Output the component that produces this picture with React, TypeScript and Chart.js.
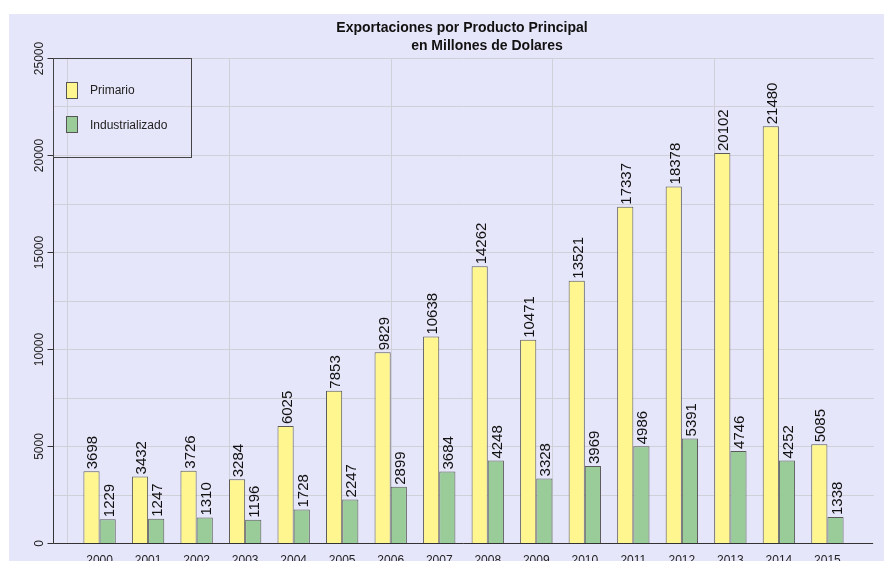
import React, { useEffect, useRef } from "react";
import { Chart, registerables } from "chart.js";

Chart.register(...registerables);

const years = ["2000","2001","2002","2003","2004","2005","2006","2007","2008","2009","2010","2011","2012","2013","2014","2015"];
const primario = [3698,3432,3726,3284,6025,7853,9829,10638,14262,10471,13521,17337,18378,20102,21480,5085];
const industrializado = [1229,1247,1310,1196,1728,2247,2899,3684,4248,3328,3969,4986,5391,4746,4252,1338];
const seriesNames = ["Primario", "Industrializado"];
const yTickLabels = [0, 5000, 10000, 15000, 20000, 25000];
const yGridValues = [0,2500,5000,7500,10000,12500,15000,17500,20000,22500,25000];
const xGridPositions = [-2/3, 8/3, 6, 28/3, 38/3];
const titleLines = ["Exportaciones por Producto Principal", "en Millones de Dolares"];

const YELLOW = "#FFF68F";
const GREEN = "#99CC99";
const BG = "#E6E6FA";
const FONT = "'Liberation Sans', Arial, sans-serif";

const drawPlugin = {
  id: "rDraw",
  beforeDraw(chart: any) {
    const ctx = chart.ctx;
    const { left, right, top, bottom } = chart.chartArea;
    const xs = chart.scales.x;
    const ys = chart.scales.y;
    ctx.save();
    ctx.fillStyle = BG;
    ctx.fillRect(0, 0, chart.width, chart.height);
    ctx.strokeStyle = "#D0D0D8";
    ctx.lineWidth = 1;
    yGridValues.forEach((v) => {
      const y = Math.round(ys.getPixelForValue(v)) + 0.5;
      ctx.beginPath();
      ctx.moveTo(left, y);
      ctx.lineTo(right, y);
      ctx.stroke();
    });
    xGridPositions.forEach((p) => {
      const x = Math.round(xs.getPixelForValue(p)) + 0.5;
      ctx.beginPath();
      ctx.moveTo(x, top);
      ctx.lineTo(x, bottom);
      ctx.stroke();
    });
    ctx.restore();
  },
  afterDraw(chart: any) {
    const ctx = chart.ctx;
    const { left, right } = chart.chartArea;
    const xs = chart.scales.x;
    const ys = chart.scales.y;
    ctx.save();
    // axes
    ctx.strokeStyle = "#333";
    ctx.lineWidth = 1;
    const y0 = Math.round(ys.getPixelForValue(0)) + 0.5;
    const yTop = Math.round(ys.getPixelForValue(25000)) + 0.5;
    const ax = Math.round(left) + 0.5;
    ctx.beginPath();
    ctx.moveTo(ax, yTop);
    ctx.lineTo(ax, y0);
    ctx.moveTo(ax, y0);
    ctx.lineTo(right - 1, y0);
    ctx.stroke();
    // y ticks and labels
    ctx.fillStyle = "#222";
    ctx.font = `12px ${FONT}`;
    yTickLabels.forEach((v) => {
      const y = Math.round(ys.getPixelForValue(v)) + 0.5;
      ctx.beginPath();
      ctx.moveTo(ax - 6, y);
      ctx.lineTo(ax, y);
      ctx.stroke();
      ctx.save();
      ctx.translate(34, y);
      ctx.rotate(-Math.PI / 2);
      ctx.textAlign = "center";
      ctx.textBaseline = "alphabetic";
      ctx.fillText(String(v), 0, 0);
      ctx.restore();
    });
    // x labels
    ctx.textAlign = "center";
    ctx.textBaseline = "alphabetic";
    years.forEach((yr, i) => {
      ctx.fillText(yr, xs.getPixelForValue(i), 550);
    });
    // data labels
    ctx.font = `15px ${FONT}`;
    chart.data.datasets.forEach((ds: any, di: number) => {
      const meta = chart.getDatasetMeta(di);
      meta.data.forEach((bar: any, i: number) => {
        const v = ds.data[i].y;
        ctx.save();
        ctx.translate(bar.x + 6, bar.y - 2);
        ctx.rotate(-Math.PI / 2);
        ctx.textAlign = "left";
        ctx.textBaseline = "alphabetic";
        ctx.fillStyle = "#111";
        ctx.fillText(String(v), 0, 0);
        ctx.restore();
      });
    });
    // legend
    ctx.strokeStyle = "#444";
    ctx.strokeRect(44.5, 44.5, 138, 99);
    const keyColors = [YELLOW, GREEN];
    const keyY = [68.5, 102.5];
    const textY = [77, 112];
    ctx.font = `12px ${FONT}`;
    seriesNames.forEach((name, i) => {
      ctx.fillStyle = keyColors[i];
      ctx.fillRect(57.5, keyY[i], 11, 16);
      ctx.strokeStyle = "#555";
      ctx.strokeRect(57.5, keyY[i], 11, 16);
      ctx.fillStyle = "#222";
      ctx.textAlign = "left";
      ctx.textBaseline = "middle";
      ctx.fillText(name, 81, textY[i]);
    });
    // title
    ctx.fillStyle = "#111";
    ctx.font = `bold 14px ${FONT}`;
    ctx.textAlign = "center";
    ctx.textBaseline = "alphabetic";
    ctx.fillText(titleLines[0], 453, 18);
    ctx.fillText(titleLines[1], 478, 36);
    ctx.restore();
  },
};

export default function App() {
  const canvasRef = useRef<HTMLCanvasElement>(null);
  useEffect(() => {
    if (!canvasRef.current) return;
    const chart = new Chart(canvasRef.current, {
      type: "bar",
      data: {
        datasets: [
          {
            label: seriesNames[0],
            data: primario.map((v, i) => ({ x: i, y: v })),
            backgroundColor: YELLOW,
            borderColor: "#5a5a5a",
            borderWidth: 1,
            categoryPercentage: 2 / 3,
            barPercentage: 1,
          },
          {
            label: seriesNames[1],
            data: industrializado.map((v, i) => ({ x: i, y: v })),
            backgroundColor: GREEN,
            borderColor: "#5a5a5a",
            borderWidth: 1,
            categoryPercentage: 2 / 3,
            barPercentage: 1,
          },
        ],
      },
      options: {
        responsive: false,
        animation: false,
        layout: { padding: { left: 44, right: 10, top: 44, bottom: 28 } },
        plugins: { legend: { display: false }, tooltip: { enabled: false }, title: { display: false } },
        scales: {
          x: { type: "linear", display: false, min: -0.96, max: 15.96, offset: false },
          y: { display: false, min: 0, max: 25000 },
        },
      } as any,
      plugins: [drawPlugin],
    });
    return () => chart.destroy();
  }, []);
  return (
    <div style={{ position: "fixed", left: 9, top: 14, width: 875, height: 557 }}>
      <canvas ref={canvasRef} width={875} height={557} style={{ display: "block" }} />
    </div>
  );
}
